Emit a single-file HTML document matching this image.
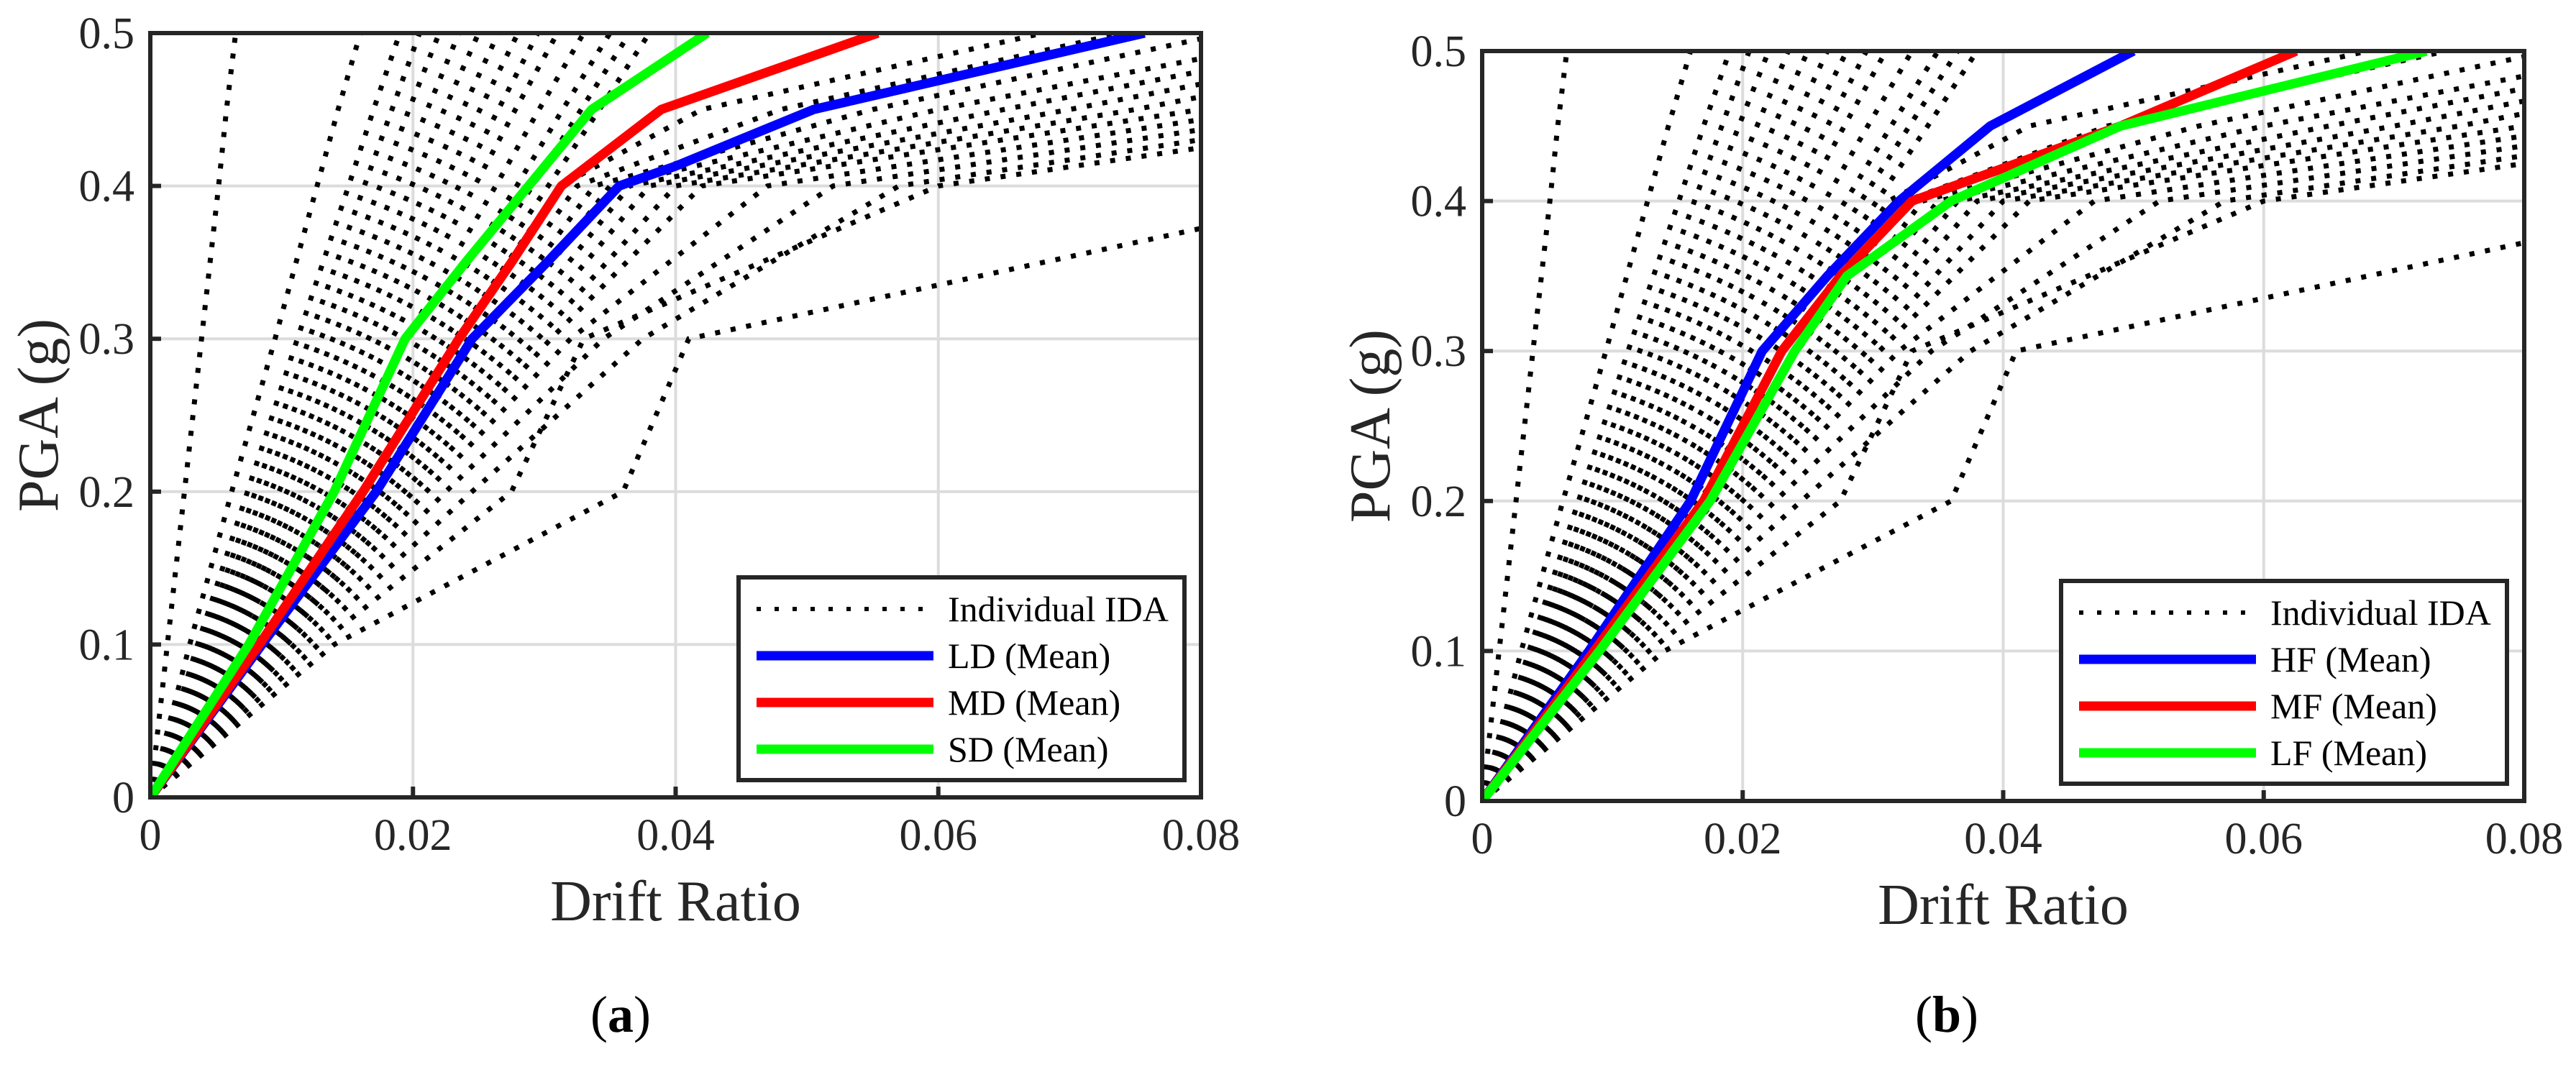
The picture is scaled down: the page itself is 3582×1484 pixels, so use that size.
<!DOCTYPE html>
<html><head><meta charset="utf-8"><style>
html,body{margin:0;padding:0;background:#fff;}
svg{display:block;}
text{font-family:"Liberation Serif","Times New Roman",serif;}
</style></head><body>
<svg id="fig" width="3582" height="1484" viewBox="0 0 3582 1484" xmlns="http://www.w3.org/2000/svg" font-family="Liberation Serif, serif">
<defs>
<clipPath id="clipA"><rect x="209" y="46" width="1461" height="1063"/></clipPath>
<clipPath id="clipB"><rect x="2061" y="71" width="1449" height="1043"/></clipPath>
</defs>
</svg>
<script>
// ---- data ----
const xTicks = [0, 0.02, 0.04, 0.06, 0.08];
const xTickLabels = ["0", "0.02", "0.04", "0.06", "0.08"];
const yTicks = [0, 0.1, 0.2, 0.3, 0.4, 0.5];
const yTickLabels = ["0", "0.1", "0.2", "0.3", "0.4", "0.5"];
// individual IDA curves: PGA levels and drift values
const idaPga = [0, 0.1, 0.2, 0.3, 0.4, 0.45, 0.5];
const idaDrift = [
 [0,0.0013,0.0026,0.0039,0.0052,0.0058,0.0065],
 [0,0.0030,0.0062,0.0095,0.0127,0.0143,0.016],
 [0,0.0036,0.0074,0.0112,0.0151,0.0170,0.019],
 [0,0.0039,0.0080,0.0121,0.0163,0.0184,0.0205],
 [0,0.0042,0.0086,0.0130,0.0175,0.0197,0.022],
 [0,0.0045,0.0092,0.0139,0.0187,0.0211,0.0235],
 [0,0.0048,0.0098,0.0148,0.0199,0.0224,0.025],
 [0,0.0051,0.0104,0.0157,0.0211,0.0238,0.0265],
 [0,0.0054,0.0110,0.0166,0.0223,0.0251,0.028],
 [0,0.0057,0.0116,0.0175,0.0235,0.0265,0.0295],
 [0,0.0060,0.0122,0.0184,0.0247,0.0278,0.031],
 [0,0.0063,0.0129,0.0195,0.0263,0.0296,0.033],
 [0,0.0067,0.0136,0.0206,0.0279,0.0314,0.035],
 [0,0.0070,0.0142,0.0215,0.0291,0.0328,0.0365],
 [0,0.0073,0.0148,0.0224,0.0303,0.0342,0.038],
 [0,0.0076,0.0154,0.0232,0.0312,0.0420,0.068],
 [0,0.0079,0.0160,0.0242,0.0325,0.0480,0.074],
 [0,0.0082,0.0166,0.0252,0.0338,0.0550,0.082],
 [0,0.0085,0.0172,0.0262,0.0350,0.0600,0.090],
 [0,0.0088,0.0178,0.0272,0.0365,0.0650,0.095],
 [0,0.0091,0.0185,0.0283,0.0380,0.0700,0.100],
 [0,0.0095,0.0193,0.0295,0.0400,0.0750,0.105],
 [0,0.0099,0.0200,0.0305,0.0420,0.0800,0.110],
 [0,0.0104,0.0210,0.0320,0.0470,0.0850,0.120],
 [0,0.0110,0.0225,0.0345,0.0520,0.0900,0.130],
 [0,0.0118,0.0245,0.0375,0.0570,0.0950,0.140],
 [0,0.0128,0.0275,0.0330,0.0600,0.1000,0.150],
 [0,0.0140,0.0360,0.0410,0.0950,0.1400,0.200]
];
// mean curves
const meanPgaA = [0, 0.1, 0.2, 0.3, 0.35, 0.4, 0.413, 0.45, 0.5];
const ldDrift  = [0, 0.0085, 0.0172, 0.0245, 0.0302, 0.0357, 0.040, 0.0505, 0.0757];
const meanPga  = [0, 0.1, 0.2, 0.3, 0.35, 0.4, 0.45, 0.5];
const mdDrift  = [0, 0.0083, 0.0162, 0.0235, 0.0275, 0.0313, 0.0389, 0.0554];
const sdDrift  = [0, 0.0075, 0.0140, 0.0194, 0.0240, 0.0288, 0.0336, 0.0424];
const hfDrift  = [0, 0.0082, 0.0160, 0.0215, 0.0265, 0.0320, 0.0390, 0.0500];
const mfDrift  = [0, 0.0086, 0.0170, 0.0230, 0.0275, 0.0330, 0.0490, 0.0625];
const lfDrift  = [0, 0.0090, 0.0175, 0.0240, 0.0280, 0.0360, 0.0490, 0.0725];

const NS = "http://www.w3.org/2000/svg";
const svg = document.getElementById('fig');
const FF = '"Liberation Serif", serif';
function mk(tag, attrs, parent){
  const e = document.createElementNS(NS, tag);
  for (const k in attrs) e.setAttribute(k, attrs[k]);
  if (tag === 'text') e.style.fontFamily = FF;
  (parent||svg).appendChild(e);
  return e;
}
function panel(cfg){
  const g = mk('g', {});
  
  
  const sx = v => cfg.x0 + v/0.08*(cfg.x1-cfg.x0);
  const sy = v => cfg.y1 - v/0.5*(cfg.y1-cfg.y0);
  xTicks.forEach((t,i)=>{ if(i>0 && i<xTicks.length-1){
    const l = mk('line',{x1:sx(t),x2:sx(t),y1:cfg.y0,y2:cfg.y1,stroke:'#dcdcdc','stroke-width':4},g);
    
    
  }});
  yTicks.forEach((t,i)=>{ if(i>0 && i<yTicks.length-1){
    const l = mk('line',{x1:cfg.x0,x2:cfg.x1,y1:sy(t),y2:sy(t),stroke:'#dcdcdc','stroke-width':4},g);
    
    
  }});
  const plot = mk('g',{'clip-path':'url(#'+cfg.clip+')'},g);
  
  
  idaDrift.forEach(arr=>{
    const pts = arr.map((d,i)=>sx(d)+','+sy(idaPga[i])).join(' ');
    const p = mk('polyline',{points:pts,fill:'none',stroke:'#000','stroke-width':7,'stroke-dasharray':'7 15'},plot);
    
    
  });
  cfg.means.forEach(m=>{
    const pts = m.d.map((d,i)=>sx(d)+','+sy(m.p[i])).join(' ');
    const p = mk('polyline',{points:pts,fill:'none',stroke:m.c,'stroke-width':13,'stroke-linejoin':'round'},plot);
    
    
  });
  const box = mk('rect',{x:cfg.x0,y:cfg.y0,width:cfg.x1-cfg.x0,height:cfg.y1-cfg.y0,fill:'none',stroke:'#262626','stroke-width':6},g);
  
  
  xTicks.forEach((t,i)=>{
    const tk = mk('line',{x1:sx(t),x2:sx(t),y1:cfg.y1,y2:cfg.y1-15,stroke:'#262626','stroke-width':6},g);
    
    
    const tx = mk('text',{x:sx(t),y:cfg.y1+73,'font-size':62,'text-anchor':'middle',fill:'#262626'},g);
    tx.textContent = xTickLabels[i];
    
    
  });
  yTicks.forEach((t,i)=>{
    const tk = mk('line',{x1:cfg.x0,x2:cfg.x0+15,y1:sy(t),y2:sy(t),stroke:'#262626','stroke-width':6},g);
    
    
    const tx = mk('text',{x:cfg.x0-22,y:sy(t)+21,'font-size':62,'text-anchor':'end',fill:'#262626'},g);
    tx.textContent = yTickLabels[i];
    
    
  });
  const xl = mk('text',{x:(cfg.x0+cfg.x1)/2,y:cfg.y1+171,'font-size':80,'text-anchor':'middle',fill:'#262626'},g);
  xl.textContent = 'Drift Ratio';
  
  
  const cy = (cfg.y0+cfg.y1)/2;
  const yl = mk('text',{x:cfg.ylx,y:cy,'font-size':80,'text-anchor':'middle',fill:'#262626',transform:'rotate(-90 '+cfg.ylx+' '+cy+')'},g);
  yl.textContent = 'PGA (g)';
  
  
  const L = cfg.leg;
  const lg = mk('g',{},g);
  
  
  mk('rect',{x:L.x,y:L.y,width:620,height:282,fill:'#fff',stroke:'#262626','stroke-width':6},lg);
  const rows = [{c:'#000',t:'Individual IDA',dot:true}].concat(cfg.means.map(m=>({c:m.c,t:m.label})));
  rows.forEach((r,i)=>{
    const yy = L.y+44+i*65;
    const ln = mk('line',{x1:L.x+25,x2:L.x+271,y1:yy,y2:yy,stroke:r.c,'stroke-width':r.dot?6:13,'stroke-dasharray':r.dot?'6 19':'none'},lg);
    
    
    const tx = mk('text',{x:L.x+291,y:yy+17,'font-size':50,fill:'#000'},lg);
    tx.textContent = r.t;
    
    
  });
  const cap = mk('text',{x:cfg.capx,y:1435,'font-size':72,'text-anchor':'middle',fill:'#000'},g);
  
  
  const s1 = mk('tspan',{},cap); s1.textContent='(';
  const s2 = mk('tspan',{'font-weight':'bold'},cap); s2.textContent=cfg.letter;
  const s3 = mk('tspan',{},cap); s3.textContent=')';
}
panel({name:'panel-a',x0:209,x1:1670,y0:46,y1:1109,clip:'clipA',ylx:80,capx:863,letter:'a',
  leg:{x:1027,y:803},
  means:[{d:ldDrift,p:meanPgaA,c:'#0000ff',n:'ld-mean-line',label:'LD (Mean)'},
         {d:mdDrift,p:meanPga,c:'#ff0000',n:'md-mean-line',label:'MD (Mean)'},
         {d:sdDrift,p:meanPga,c:'#00ff00',n:'sd-mean-line',label:'SD (Mean)'}]});
panel({name:'panel-b',x0:2061,x1:3510,y0:71,y1:1114,clip:'clipB',ylx:1932,capx:2707,letter:'b',
  leg:{x:2866,y:808},
  means:[{d:hfDrift,p:meanPga,c:'#0000ff',n:'hf-mean-line',label:'HF (Mean)'},
         {d:mfDrift,p:meanPga,c:'#ff0000',n:'mf-mean-line',label:'MF (Mean)'},
         {d:lfDrift,p:meanPga,c:'#00ff00',n:'lf-mean-line',label:'LF (Mean)'}]});
</script>
</body></html>
